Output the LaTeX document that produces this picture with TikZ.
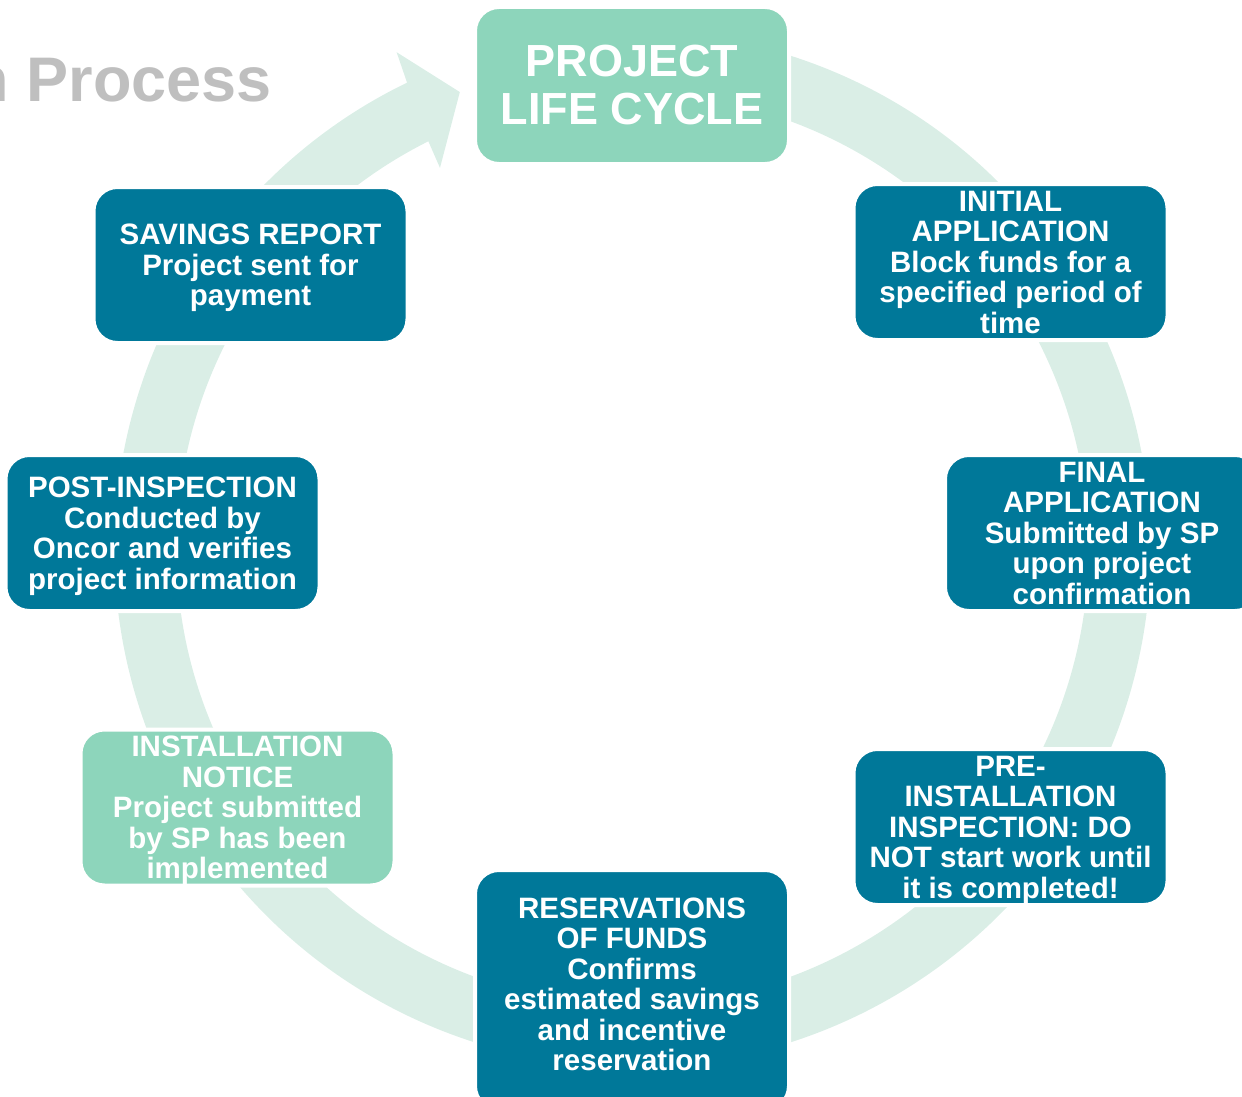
\documentclass[tikz,border=0pt]{standalone}
\usepackage{fontspec}
\setmainfont{Liberation Sans}
\usetikzlibrary{calc}
\definecolor{tealbox}{RGB}{0,120,153}
\definecolor{greenbox}{RGB}{141,213,187}
\definecolor{ringc}{RGB}{218,238,230}
\definecolor{titlegray}{RGB}{191,191,191}
\newcommand\nodepth[1]{\raisebox{0pt}[\height][0pt]{#1}}
\begin{document}
\begin{tikzpicture}[x=1pt,y=1pt,
  stage/.style={rectangle, rounded corners=24pt, draw=white, line width=4pt,
    minimum width=314pt, minimum height=156pt, inner sep=0pt, align=center,
    text=white, font=\fontsize{29.5}{30.5}\selectfont\bfseries},
  darkstage/.style={stage, fill=tealbox},
  lightstage/.style={stage, fill=greenbox}]
\path[use as bounding box, clip] (0,0) rectangle (1242,-1097);
\coordinate (C) at (632.5,-549);
% title fragment
\node[anchor=base east, inner sep=0pt, text=titlegray,
  font=\fontsize{63}{63}\selectfont\bfseries] (title) at (272,-102) {n Process};
% circular arrow
\fill[ringc] ([shift={(C)}]72.2:518) arc[start angle=72.2, end angle=-244.2, radius=518]
  -- ([shift={(C)}]115.4:550) -- ([shift={(C)}]110.7:488.5)
  -- ([shift={(C)}]116.8:427) -- ([shift={(C)}]116.6:456)
  arc[start angle=-243.4, end angle=69.7, radius=456] -- cycle;
% stages
\node[lightstage, minimum height=157pt, font=\fontsize{45}{48}\selectfont\bfseries] (plc) at (632,-85.5) {PROJECT\\LIFE CYCLE};
\node[darkstage] (init) at (1010.5,-262) {INITIAL\\APPLICATION\\Block funds for a\\specified period of\\time};
\node[darkstage] (final) at (1102,-533) {FINAL\\APPLICATION\\Submitted by SP\\upon project\\confirmation};
\node[darkstage] (pre) at (1010.5,-827) {PRE-\\INSTALLATION\\INSPECTION: DO\\NOT start work until\\\nodepth{it is completed!}};
\node[darkstage, minimum height=240pt] (res) at (632,-990) {RESERVATIONS\\OF FUNDS\\Confirms\\estimated savings\\and incentive\\reservation\rule[-12pt]{0pt}{0pt}};
\node[lightstage] (inst) at (237.5,-807.5) {INSTALLATION\\NOTICE\\Project submitted\\by SP has been\\\nodepth{implemented}};
\node[darkstage] (post) at (162.5,-533) {POST-INSPECTION\\Conducted by\\Oncor and verifies\\\nodepth{project information}};
\node[darkstage] (sav) at (250.5,-265) {SAVINGS REPORT\\Project sent for\\\nodepth{payment}};
\end{tikzpicture}
\end{document}
